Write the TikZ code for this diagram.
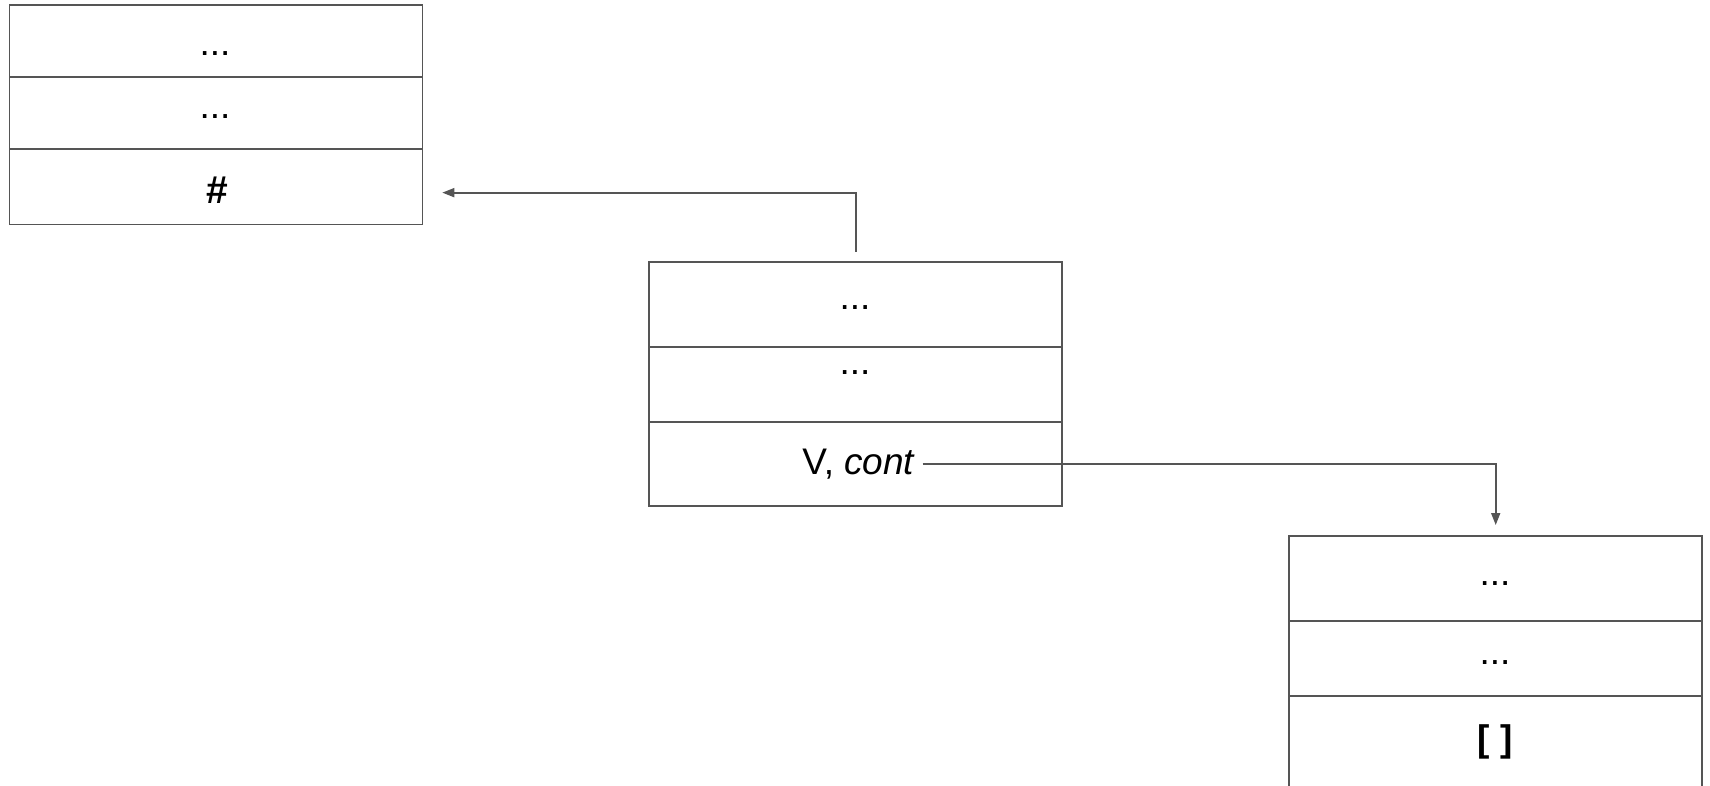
\documentclass[tikz,border=0pt]{standalone}
\usepackage{fontspec}
\setmainfont{Liberation Sans}
\usetikzlibrary{arrows.meta}

\definecolor{rulegray}{HTML}{555555}

\tikzset{
  cell/.style={draw=rulegray, line width=1.8pt, minimum width=413pt, inner sep=0pt, anchor=north west},
  entry/.style={font=\fontsize{37}{44}\selectfont, anchor=base, inner sep=0pt},
  link/.style={draw=rulegray, line width=1.8pt, -{Triangle[length=12pt,width=9pt]}},
}

\begin{document}
\begin{tikzpicture}[x=1pt, y=-1pt]
    \useasboundingbox (0,0) rectangle (1710,785);

    % left frame
    \node [cell, minimum height=72pt] (a1) at (8.5, 4) {};
    \node [cell, minimum height=72pt] (a2) at (8.5, 76) {};
    \node [cell, minimum height=75.5pt] (a3) at (8.5, 148) {};
    \node [entry] (ta1) at (215, 55.8) {...};
    \node [entry] (ta2) at (215, 118.3) {...};
    \node [entry, font=\fontsize{39}{44}\bfseries] (ta3) at (217, 203) {\symbol{35}};

    % middle frame
    \node [cell, minimum height=85.3pt] (b1) at (648.3, 260.7) {};
    \node [cell, minimum height=74.7pt] (b2) at (648.3, 346) {};
    \node [cell, minimum height=84.3pt] (b3) at (648.3, 420.7) {};
    \node [entry] (tb1) at (855, 309.9) {...};
    \node [entry] (tb2) at (855, 374.8) {...};
    \node [entry] (tb3) at (859, 474.5) {V, \textit{cont}};

    % right frame, runs off the bottom
    \node [cell, minimum height=85pt] (c1) at (1288.3, 535) {};
    \node [cell, minimum height=75pt] (c2) at (1288.3, 620) {};
    \node [cell, minimum height=100pt] (c3) at (1288.3, 695) {};
    \node [entry] (tc1) at (1495, 585.3) {...};
    \node [entry] (tc2) at (1495, 664.9) {...};
    \node [entry] (tc3) at (1495, 751) {\textbf{[ ]}};

    % links
    \draw [link] ([yshift=9pt]b1.north) |- ([xshift=19pt, yshift=-6pt]a3.east);
    \draw [link] ([xshift=7pt]tb3.east) -| ([yshift=10pt]c1.north);
\end{tikzpicture}
\end{document}
